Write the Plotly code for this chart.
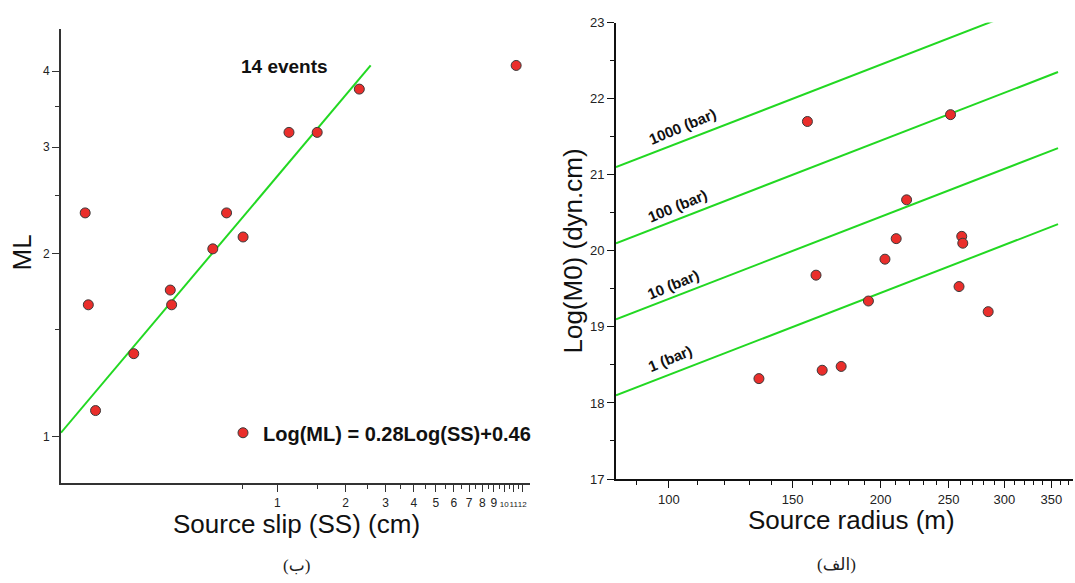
import plotly.graph_objects as go
import numpy as np

# ---------------- Left panel: Source slip vs ML ----------------
ss_cm = [0.1425, 0.1471, 0.1583, 0.2332, 0.3378, 0.3425, 0.5199, 0.5978, 0.7069, 1.126, 1.499, 2.298, 11.28]
ml = [2.337, 1.649, 1.104, 1.370, 1.744, 1.649, 2.039, 2.337, 2.133, 3.172, 3.172, 3.738, 4.089]
fit_ss = [0.1115, 2.579]
fit_ml = [1.015, 4.089]
ss_ticks = [1, 2, 3, 4, 5, 6, 7, 8, 9, 10, 11, 12]
ss_minor = [0.7, 1.5, 2.5, 3.5, 4.5, 5.5, 6.5, 7.5, 8.5, 9.5, 10.5, 11.5]
ml_ticks = [1, 2, 3, 4]
ml_minor = [1.5, 2.5, 3.5]
fit_label = "Log(ML) = 0.28Log(SS)+0.46"

# ---------------- Right panel: Source radius vs Log(M0) ----------------
radius_m = [157.4, 251.5, 217.8, 210.5, 260.9, 261.8, 202.9, 161.9, 258.6, 192.2, 284.5, 175.8, 165.2, 134.3]
log_m0 = [21.70, 21.79, 20.67, 20.16, 20.19, 20.10, 19.89, 19.68, 19.53, 19.34, 19.20, 18.48, 18.43, 18.32]
stress_labels = ["1 (bar)", "10 (bar)", "100 (bar)", "1000 (bar)"]
stress_r = [84.1, 357.6]
stress_start = [18.1, 19.1, 20.1, 21.1]
stress_end = [20.35, 21.35, 22.35, 23.35]
label_r = [100.3, 101.3, 103.0, 104.4]
label_logm0 = [18.59, 19.56, 20.60, 21.636]
r_ticks = [100, 150, 200, 250, 300, 350]
r_minor = list(range(90, 380, 10))
m0_ticks = [17, 18, 19, 20, 21, 22, 23]
m0_minor = [17.5, 18.5, 19.5, 20.5, 21.5, 22.5]

W, H = 1075, 583
GREEN = "#22d822"
RED = "#ea2e2b"
FONT = "Liberation Sans"

fig = go.Figure()

fig.add_trace(go.Scatter(x=fit_ss, y=fit_ml, mode="lines",
                         line=dict(color=GREEN, width=2),
                         xaxis="x", yaxis="y", showlegend=False, hoverinfo="skip"))
fig.add_trace(go.Scatter(x=ss_cm, y=ml, mode="markers", name=fit_label,
                         marker=dict(color=RED, size=10, line=dict(color="#3a3a3a", width=1)),
                         xaxis="x", yaxis="y", showlegend=True))

for s0, s1 in zip(stress_start, stress_end):
    fig.add_trace(go.Scatter(x=stress_r, y=[s0, s1], mode="lines",
                             line=dict(color=GREEN, width=2),
                             xaxis="x2", yaxis="y2", showlegend=False, hoverinfo="skip"))
fig.add_trace(go.Scatter(x=radius_m, y=log_m0, mode="markers",
                         marker=dict(color=RED, size=10, line=dict(color="#3a3a3a", width=1)),
                         xaxis="x2", yaxis="y2", showlegend=False))

def px_x(p):
    return p / W

def px_y(p):
    return (H - p) / H

# crowded labels at the right end of the slip axis are set a bit smaller
ss_ticktext = [str(t) if t < 10 else "<span style='font-size:8px'>%d</span>" % t for t in ss_ticks]

tickfont = dict(family=FONT, size=12, color="#222")
common = dict(showgrid=False, zeroline=False, showline=True, linewidth=2,
              ticks="outside", ticklen=7, tickwidth=1, mirror=False, tickangle=0)

annotations = []
annotations.append(dict(text="<b>14 events</b>", x=px_x(284), y=px_y(61), xref="paper", yref="paper",
                        showarrow=False, font=dict(family=FONT, size=19, color="#111"),
                        xanchor="center", yanchor="middle"))
# axis titles
annotations.append(dict(text="ML", x=px_x(22), y=px_y(252), xref="paper", yref="paper",
                        showarrow=False, textangle=-90, font=dict(family=FONT, size=26, color="#111"),
                        xanchor="center", yanchor="middle"))
annotations.append(dict(text="Source slip (SS) (cm)", x=px_x(296), y=px_y(531), xref="paper", yref="paper",
                        showarrow=False, font=dict(family=FONT, size=26, color="#111"),
                        xanchor="center", yanchor="middle"))
annotations.append(dict(text="Log(M0) (dyn.cm)", x=px_x(573), y=px_y(251), xref="paper", yref="paper",
                        showarrow=False, textangle=-90, font=dict(family=FONT, size=26, color="#111"),
                        xanchor="center", yanchor="middle"))
annotations.append(dict(text="Source radius (m)", x=px_x(851), y=px_y(527), xref="paper", yref="paper",
                        showarrow=False, font=dict(family=FONT, size=26, color="#111"),
                        xanchor="center", yanchor="middle"))
annotations.append(dict(text="(ب)", x=px_x(296), y=px_y(573), xref="paper", yref="paper",
                        showarrow=False, font=dict(family="Liberation Serif, DejaVu Sans", size=17, color="#222"),
                        xanchor="center", yanchor="middle"))
annotations.append(dict(text="(الف)", x=px_x(836), y=px_y(572), xref="paper", yref="paper",
                        showarrow=False, font=dict(family="Liberation Serif, DejaVu Sans", size=17, color="#222"),
                        xanchor="center", yanchor="middle"))
for lab, r, m in zip(stress_labels, label_r, label_logm0):
    annotations.append(dict(text="<b>" + lab + "</b>", x=np.log10(r), y=m, xref="x2", yref="y2",
                            showarrow=False, textangle=-22.5,
                            font=dict(family=FONT, size=15, color="#111"),
                            xanchor="center", yanchor="middle"))

fig.update_layout(
    width=W, height=H,
    margin=dict(l=0, r=0, t=0, b=0),
    paper_bgcolor="white", plot_bgcolor="white",
    font=dict(family=FONT, color="#222"),
    xaxis=dict(domain=[px_x(61), px_x(530)], type="log",
               range=[np.log10(0.1115), np.log10(12.98)],
               tickmode="array", tickvals=ss_ticks, ticktext=ss_ticktext,
               linecolor="#333", tickcolor="#333", tickfont=tickfont, anchor="y",
               minor=dict(tickvals=ss_minor, ticks="outside", ticklen=4, tickcolor="#333"),
               **common),
    yaxis=dict(domain=[px_y(488.7), px_y(23)], type="log",
               range=[-0.0766, 0.671],
               tickmode="array", tickvals=ml_ticks, ticktext=[str(t) for t in ml_ticks],
               linecolor="#333", tickcolor="#333", tickfont=tickfont, anchor="x",
               minor=dict(tickvals=ml_minor, ticks="outside", ticklen=4, tickcolor="#333"),
               **common),
    xaxis2=dict(domain=[px_x(616), px_x(1073)], type="log",
                range=[np.log10(84.1), 2.5747],
                tickmode="array", tickvals=r_ticks, ticktext=[str(t) for t in r_ticks],
                linecolor="#111", tickcolor="#111", tickfont=dict(family=FONT, size=13, color="#222"),
                anchor="y2",
                minor=dict(tickvals=r_minor, ticks="outside", ticklen=4, tickcolor="#111"),
                **common),
    yaxis2=dict(domain=[px_y(484.5), px_y(16)], range=[17, 23],
                tickmode="array", tickvals=m0_ticks, ticktext=[str(t) for t in m0_ticks],
                linecolor="#111", tickcolor="#111", tickfont=dict(family=FONT, size=13, color="#222"),
                anchor="x2",
                minor=dict(tickvals=m0_minor, ticks="outside", ticklen=4, tickcolor="#111"),
                **common),
    legend=dict(x=px_x(223), y=px_y(437), xanchor="left", yanchor="middle",
                bgcolor="rgba(0,0,0,0)", borderwidth=0,
                font=dict(family=FONT, size=20, color="#111", weight="bold"),
                itemwidth=30),
    annotations=annotations,
)

fig.write_html("out.html")
